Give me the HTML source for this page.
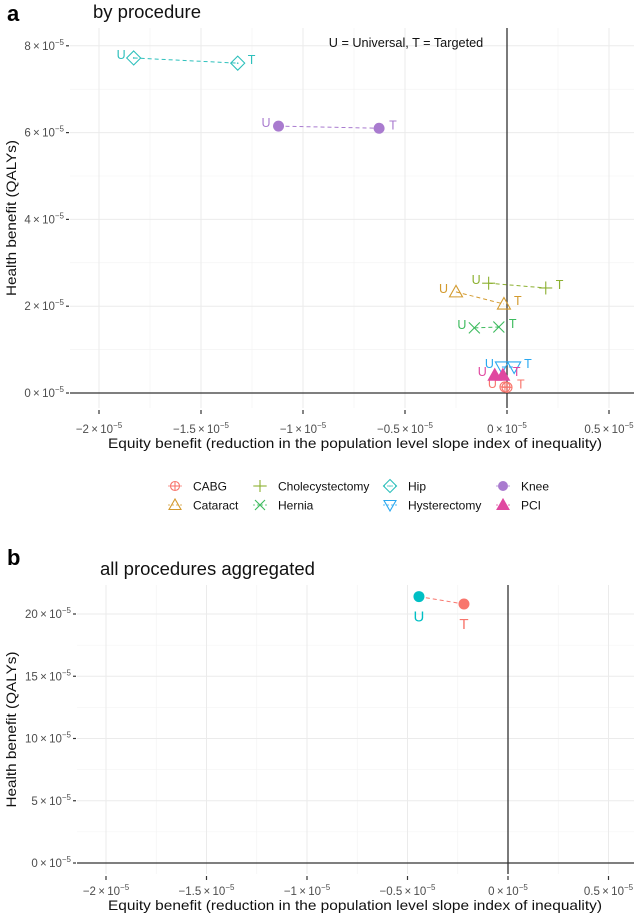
<!DOCTYPE html>
<html><head><meta charset="utf-8">
<style>
html,body{margin:0;padding:0;background:#fff;}
svg{display:block;font-family:"Liberation Sans",Arial,sans-serif;}
</style></head>
<body>
<svg id="chart" width="640" height="922" viewBox="0 0 640 922" xmlns="http://www.w3.org/2000/svg"></svg>
<script>
// ---- Panel a data (units of 1e-5) ----
const procedures = ["CABG","Cataract","Cholecystectomy","Hernia","Hip","Hysterectomy","Knee","PCI"];
const uniX = [-0.01, -0.25, -0.09, -0.16, -1.83, -0.025, -1.12, -0.06];
const uniY = [0.14, 2.33, 2.53, 1.50, 7.72, 0.60, 6.15, 0.41];
const tarX = [0.0, -0.015, 0.19, -0.04, -1.32, 0.035, -0.627, -0.02];
const tarY = [0.13, 2.05, 2.42, 1.52, 7.60, 0.60, 6.10, 0.41];
const procColors = ["#F8766D","#D39A2E","#8CB030","#3DBB5E","#2EC0BC","#2AA8F0","#A97BCF","#E048A0"];
const procShapes = ["circleplus","triangle","plus","cross","diamond","triangledown","dot","filltriangle"];
// ---- Panel b data ----
const aggX = [-0.443, -0.219];
const aggY = [21.4, 20.8];
const aggLabels = ["U","T"];
const aggColors = ["#00BFC4","#F8766D"];
// ---- ticks ----
const xTicks = [-2,-1.5,-1,-0.5,0,0.5];
const xTickLabels = ["\u22122","\u22121.5","\u22121","\u22120.5","0","0.5"];
const yTicksA = [0,2,4,6,8];
const yTicksB = [0,5,10,15,20];

const svg = document.getElementById('chart');
const NS = "http://www.w3.org/2000/svg";
function mk(tag, attrs, parent){const e=document.createElementNS(NS,tag);for(const k in attrs)e.setAttribute(k,attrs[k]);(parent||svg).appendChild(e);return e;}

function sciLabel(parent, x, y, mant, anchor, name){
  const t = mk('text',{x:x,y:y,'text-anchor':anchor,'font-size':11.5,fill:'#4D4D4D'},parent);
  
  
  const a = mk('tspan',{},t); a.textContent = mant + "\u2009\u00D7\u200910";
  const b = mk('tspan',{'font-size':8,dy:-5},t); b.textContent = "\u22125";
  return t;
}

function drawPanel(cfg){
  const g = mk('g',{});
  
  
  const sx = v => cfg.x0 + v*cfg.xs;
  const sy = v => cfg.y0 - v*cfg.ys;
  for(let v=-2.25; v<=0.75; v+=0.5){ const px=sx(v); if(px>cfg.left&&px<cfg.right) mk('line',{x1:px,x2:px,y1:cfg.top,y2:cfg.bottom,stroke:'#F2F2F2','stroke-width':0.6},g);}
  cfg.minorY.forEach(v=>{ mk('line',{x1:cfg.left,x2:cfg.right,y1:sy(v),y2:sy(v),stroke:'#F2F2F2','stroke-width':0.6},g);});
  xTicks.forEach(v=>{ mk('line',{x1:sx(v),x2:sx(v),y1:cfg.top,y2:cfg.bottom,stroke:'#EBEBEB','stroke-width':1},g);});
  cfg.yTicks.forEach(v=>{ mk('line',{x1:cfg.left,x2:cfg.right,y1:sy(v),y2:sy(v),stroke:'#EBEBEB','stroke-width':1},g);});
  const hl = mk('line',{x1:cfg.left,x2:cfg.right,y1:sy(0),y2:sy(0),stroke:'#333','stroke-width':1.3},g);
   
  const vl = mk('line',{x1:sx(0),x2:sx(0),y1:cfg.top,y2:cfg.bottom,stroke:'#333','stroke-width':1.3},g);
   
  xTicks.forEach((v,i)=>{
    mk('line',{x1:sx(v),x2:sx(v),y1:cfg.bottom+2,y2:cfg.bottom+6,stroke:'#333','stroke-width':1.2},g);
    sciLabel(g, sx(v), cfg.bottom+cfg.lblOff, xTickLabels[i], 'middle', 'x-tick-label');
  });
  cfg.yTicks.forEach(v=>{
    mk('line',{x1:cfg.left-4,x2:cfg.left-1,y1:sy(v),y2:sy(v),stroke:'#333','stroke-width':1.2},g);
    sciLabel(g, cfg.left-6, sy(v)+4, String(v), 'end', 'y-tick-label');
  });
  const xt = mk('text',{x:355,y:cfg.bottom+cfg.titleOff,'text-anchor':'middle','font-size':13.8,fill:'#111',textLength:494,lengthAdjust:'spacingAndGlyphs'},g);
   
  xt.textContent = "Equity benefit (reduction in the population level slope index of inequality)";
  const ym = (cfg.top+cfg.bottom)/2;
  const yt = mk('text',{x:0,y:0,'text-anchor':'middle','font-size':13.8,fill:'#111',textLength:156,lengthAdjust:'spacingAndGlyphs',transform:`translate(16,${ym}) rotate(-90)`},g);
   
  yt.textContent = "Health benefit (QALYs)";
  const pl = mk('text',{x:cfg.letterX,y:cfg.letterY,'font-size':22,'font-weight':'bold',fill:'#000'},g);
   
  pl.textContent = cfg.letter;
  const ti = mk('text',{x:cfg.titleX,y:cfg.titleY,'font-size':18.5,fill:'#111'},g);
   
  ti.textContent = cfg.title;
  return {g,sx,sy};
}

function shape(parent, type, cx, cy, color, r){
  r = r||5.5;
  const sw = 1.1;
  let e;
  if(type==='dot'){ e=mk('circle',{cx,cy,r:r,fill:color},parent); }
  else if(type==='circleplus'){ e=mk('g',{},parent); mk('circle',{cx,cy,r:r-0.5,fill:'none',stroke:color,'stroke-width':sw},e); mk('line',{x1:cx-r+1,x2:cx+r-1,y1:cy,y2:cy,stroke:color,'stroke-width':sw},e); mk('line',{x1:cx,x2:cx,y1:cy-r+1,y2:cy+r-1,stroke:color,'stroke-width':sw},e);}
  else if(type==='triangle'){ e=mk('polygon',{points:`${cx},${cy-r-1} ${cx-r-1},${cy+r-0.5} ${cx+r+1},${cy+r-0.5}`,fill:'none',stroke:color,'stroke-width':sw},parent);}
  else if(type==='filltriangle'){ e=mk('polygon',{points:`${cx},${cy-r-1} ${cx-r-1},${cy+r-0.5} ${cx+r+1},${cy+r-0.5}`,fill:color,stroke:color,'stroke-width':sw},parent);}
  else if(type==='triangledown'){ e=mk('polygon',{points:`${cx},${cy+r+1} ${cx-r-1},${cy-r+0.5} ${cx+r+1},${cy-r+0.5}`,fill:'none',stroke:color,'stroke-width':sw},parent);}
  else if(type==='plus'){ e=mk('g',{},parent); mk('line',{x1:cx-r-1,x2:cx+r+1,y1:cy,y2:cy,stroke:color,'stroke-width':sw},e); mk('line',{x1:cx,x2:cx,y1:cy-r-1,y2:cy+r+1,stroke:color,'stroke-width':sw},e);}
  else if(type==='cross'){ e=mk('g',{},parent); mk('line',{x1:cx-r,x2:cx+r,y1:cy-r,y2:cy+r,stroke:color,'stroke-width':sw},e); mk('line',{x1:cx-r,x2:cx+r,y1:cy+r,y2:cy-r,stroke:color,'stroke-width':sw},e);}
  else if(type==='diamond'){ e=mk('g',{},parent); mk('polygon',{points:`${cx},${cy-r-1.5} ${cx+r+1.5},${cy} ${cx},${cy+r+1.5} ${cx-r-1.5},${cy}`,fill:'none',stroke:color,'stroke-width':sw},e); mk('circle',{cx,cy,r:0.8,fill:color},e);}
  return e;
}

// ---- Panel a ----
const A = drawPanel({name:'panel-a-by-procedure',x0:507,xs:204,y0:393,ys:43.4,left:70,right:634,top:28,bottom:408,lblOff:25,titleOff:40,
  yTicks:yTicksA,minorY:[1,3,5,7],letter:'a',letterX:7,letterY:21,title:'by procedure',titleX:93,titleY:18});
const note = mk('text',{x:406,y:47,'text-anchor':'middle','font-size':12.7,fill:'#111'},A.g);
 
note.textContent = "U = Universal, T = Targeted";
procedures.forEach((p,i)=>{
  const g = mk('g',{},A.g);
  
  
  const c = procColors[i];
  const ux=A.sx(uniX[i]), uy=A.sy(uniY[i]), tx=A.sx(tarX[i]), ty=A.sy(tarY[i]);
  mk('line',{x1:ux,y1:uy,x2:tx,y2:ty,stroke:c,'stroke-width':1,'stroke-dasharray':'4,3'},g);
  const su = shape(g, procShapes[i], ux, uy, c);
  
  
  const st = shape(g, procShapes[i], tx, ty, c);
  
  
  const lu = mk('text',{x:ux-8,y:uy+1,'text-anchor':'end','font-size':12.5,fill:c},g); lu.textContent='U';
   
  const lt = mk('text',{x:tx+10,y:ty+1,'text-anchor':'start','font-size':12.5,fill:c},g); lt.textContent='T';
   
});

// ---- Legend ----
const leg = mk('g',{});


const legCols = [175,260,390,503];
const legRows = [486,505];
const legOrder = [[0,1],[2,3],[4,5],[6,7]];
legOrder.forEach((pair,ci)=>pair.forEach((pi,ri)=>{
  const gi = mk('g',{},leg);
  
  
  shape(gi, procShapes[pi], legCols[ci], legRows[ri], procColors[pi], 5);
  mk('line',{x1:legCols[ci]-7,x2:legCols[ci]+7,y1:legRows[ri],y2:legRows[ri],stroke:procColors[pi],'stroke-width':0.8,'stroke-dasharray':'2,2'},gi);
  const t = mk('text',{x:legCols[ci]+18,y:legRows[ri]+4.5,'font-size':12,fill:'#111'},gi);
  t.textContent = procedures[pi];
}));

// ---- Panel b ----
const B = drawPanel({name:'panel-b-aggregated',x0:508,xs:201,y0:863,ys:12.45,left:77,right:634,top:585,bottom:874,lblOff:21,titleOff:36,
  yTicks:yTicksB,minorY:[2.5,7.5,12.5,17.5],letter:'b',letterX:7,letterY:565,title:'all procedures aggregated',titleX:100,titleY:575});
const bs = mk('g',{},B.g);


mk('line',{x1:B.sx(aggX[0]),y1:B.sy(aggY[0]),x2:B.sx(aggX[1]),y2:B.sy(aggY[1]),stroke:'#F8766D','stroke-width':1,'stroke-dasharray':'4,3'},bs);
aggX.forEach((v,i)=>{
  const c = mk('circle',{cx:B.sx(v),cy:B.sy(aggY[i]),r:5.5,fill:aggColors[i]},bs);
  
  
  const t = mk('text',{x:B.sx(v),y:B.sy(aggY[i])+25,'text-anchor':'middle','font-size':15,fill:aggColors[i]},bs);
  
  
  t.textContent = aggLabels[i];
});
</script>
</body></html>
